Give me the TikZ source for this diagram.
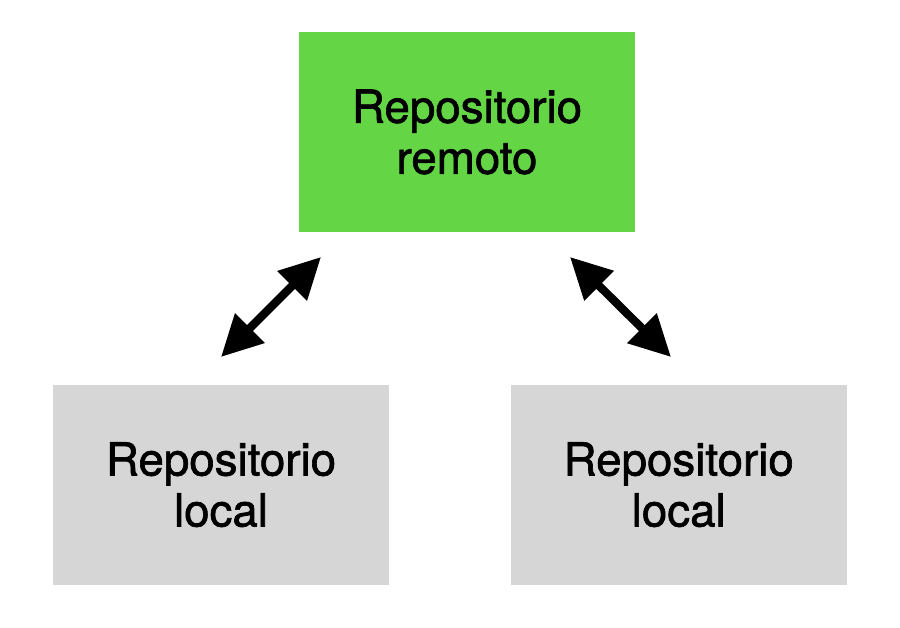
\documentclass[tikz,border=0pt]{standalone}
\usepackage{fontspec}
\setmainfont{TeX Gyre Heros}
\newfontfamily\medio[FakeBold=1.4]{TeX Gyre Heros}
\usepackage{tikz}
\usetikzlibrary{shapes,arrows.meta,positioning}
\definecolor{verde}{HTML}{64D646}
\definecolor{gris}{HTML}{D6D6D6}
\tikzstyle{repo} = [rectangle, text centered, minimum width=6.72cm, minimum height=4cm,
    text width=6cm, font=\medio\fontsize{26}{29}\selectfont, inner sep=0pt]
\tikzstyle{line} = [draw, line width=4.7pt, {Triangle[length=0.82cm,width=0.8cm]}-{Triangle[length=0.82cm,width=0.8cm]}]

\begin{document}
\begin{tikzpicture}
    \useasboundingbox (0,0) rectangle (18,12.56);
      \node [repo, fill=verde] at (9.34,9.92) (remoto) {Repositorio\\remoto};
      \node [repo, fill=gris, below=3.04cm of remoto, xshift=-4.92cm] (local1) {Repositorio\\local};
      \node [repo, fill=gris, right=2.42cm of local1] (local2) {Repositorio\\local};

      % extremos de las flechas
      \coordinate (a1) at (6.42,7.42);
      \coordinate (a2) at (4.42,5.42);
      \coordinate (b1) at (11.40,7.42);
      \coordinate (b2) at (13.42,5.42);

      \path [line] (a1) -- (a2);
      \path [line] (b1) -- (b2);

\end{tikzpicture}
\end{document}
